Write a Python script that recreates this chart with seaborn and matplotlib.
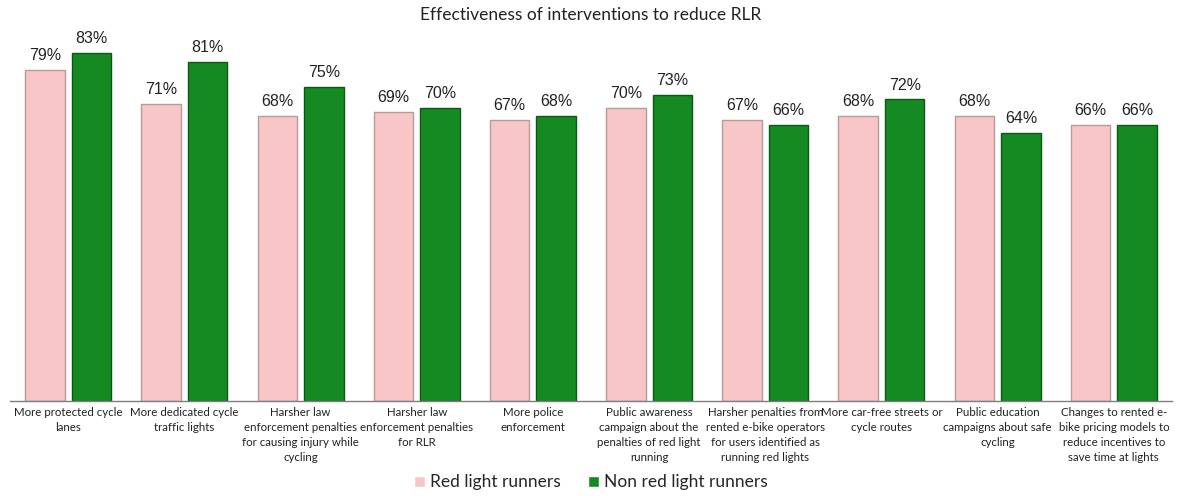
import matplotlib
matplotlib.use("Agg")
import matplotlib.pyplot as plt
from matplotlib import font_manager
import seaborn as sns
import pandas as pd

categories = [
    "More protected cycle\nlanes",
    "More dedicated cycle\ntraffic lights",
    "Harsher law\nenforcement penalties\nfor causing injury while\ncycling",
    "Harsher law\nenforcement penalties\nfor RLR",
    "More police\nenforcement",
    "Public awareness\ncampaign about the\npenalties of red light\nrunning",
    "Harsher penalties from\nrented e-bike operators\nfor users identified as\nrunning red lights",
    "More car-free streets or\ncycle routes",
    "Public education\ncampaigns about safe\ncycling",
    "Changes to rented e-\nbike pricing models to\nreduce incentives to\nsave time at lights",
]
red_light_runners = [79, 71, 68, 69, 67, 70, 67, 68, 68, 66]
non_red_light_runners = [83, 81, 75, 70, 68, 73, 66, 72, 64, 66]
series_names = ["Red light runners", "Non red light runners"]

df = pd.DataFrame({
    "category": categories * 2,
    "value": red_light_runners + non_red_light_runners,
    "group": [series_names[0]] * len(categories) + [series_names[1]] * len(categories),
})

sns.set_theme(style="white")
plt.rcParams["font.family"] = ["Lato", "DejaVu Sans"]

installed = {f.name for f in font_manager.fontManager.ttflist}
tick_family = "Liberation Sans Narrow" if "Liberation Sans Narrow" in installed else "Lato"
tick_size = 9.2 if tick_family == "Liberation Sans Narrow" else 8.3

fig = plt.figure(figsize=(11.82, 4.96), dpi=100)
ax = fig.add_axes([0.0085, 0.1915, 0.983, 0.76])

palette = {series_names[0]: "#F8C6C6", series_names[1]: "#168A22"}
sns.barplot(data=df, x="category", y="value", hue="group", order=categories,
            hue_order=series_names, palette=palette, width=0.8, gap=0.15,
            saturation=1, ax=ax, legend=True)

edge = {series_names[0]: "#B79A9A", series_names[1]: "#0B5A13"}
for cont, name in zip(ax.containers, series_names):
    for bar in cont:
        bar.set_edgecolor(edge[name])
        bar.set_linewidth(1.0)
    ax.bar_label(cont, labels=[f"{v:.0f}%" for v in cont.datavalues],
                 padding=5, fontsize=11.5, family="Liberation Sans", color="#222222")

ax.set_ylim(0, 90)
ax.set_xlim(-0.5, len(categories) - 0.5)
ax.set_xlabel("")
ax.set_ylabel("")
ax.set_yticks([])
ax.tick_params(axis="x", length=0, pad=4)
ax.set_xticks(range(len(categories)))
ax.set_xticklabels(categories, fontsize=tick_size, family=tick_family,
                   color="#222222", linespacing=1.45)
for side in ["top", "right", "left"]:
    ax.spines[side].set_visible(False)
ax.spines["bottom"].set_color("#7F7F7F")
ax.spines["bottom"].set_linewidth(1.0)

fig.suptitle("Effectiveness of interventions to reduce RLR", y=0.985,
             fontsize=12.5, color="#222222")

handles, labels = ax.get_legend_handles_labels()
ax.legend_.remove()
fig.legend(handles, labels, loc="lower center", bbox_to_anchor=(0.5, -0.02),
           ncol=2, frameon=False, fontsize=12.5, handlelength=0.6,
           handleheight=0.6, handletextpad=0.3, columnspacing=1.6)

fig.savefig("out.png", dpi=100)
